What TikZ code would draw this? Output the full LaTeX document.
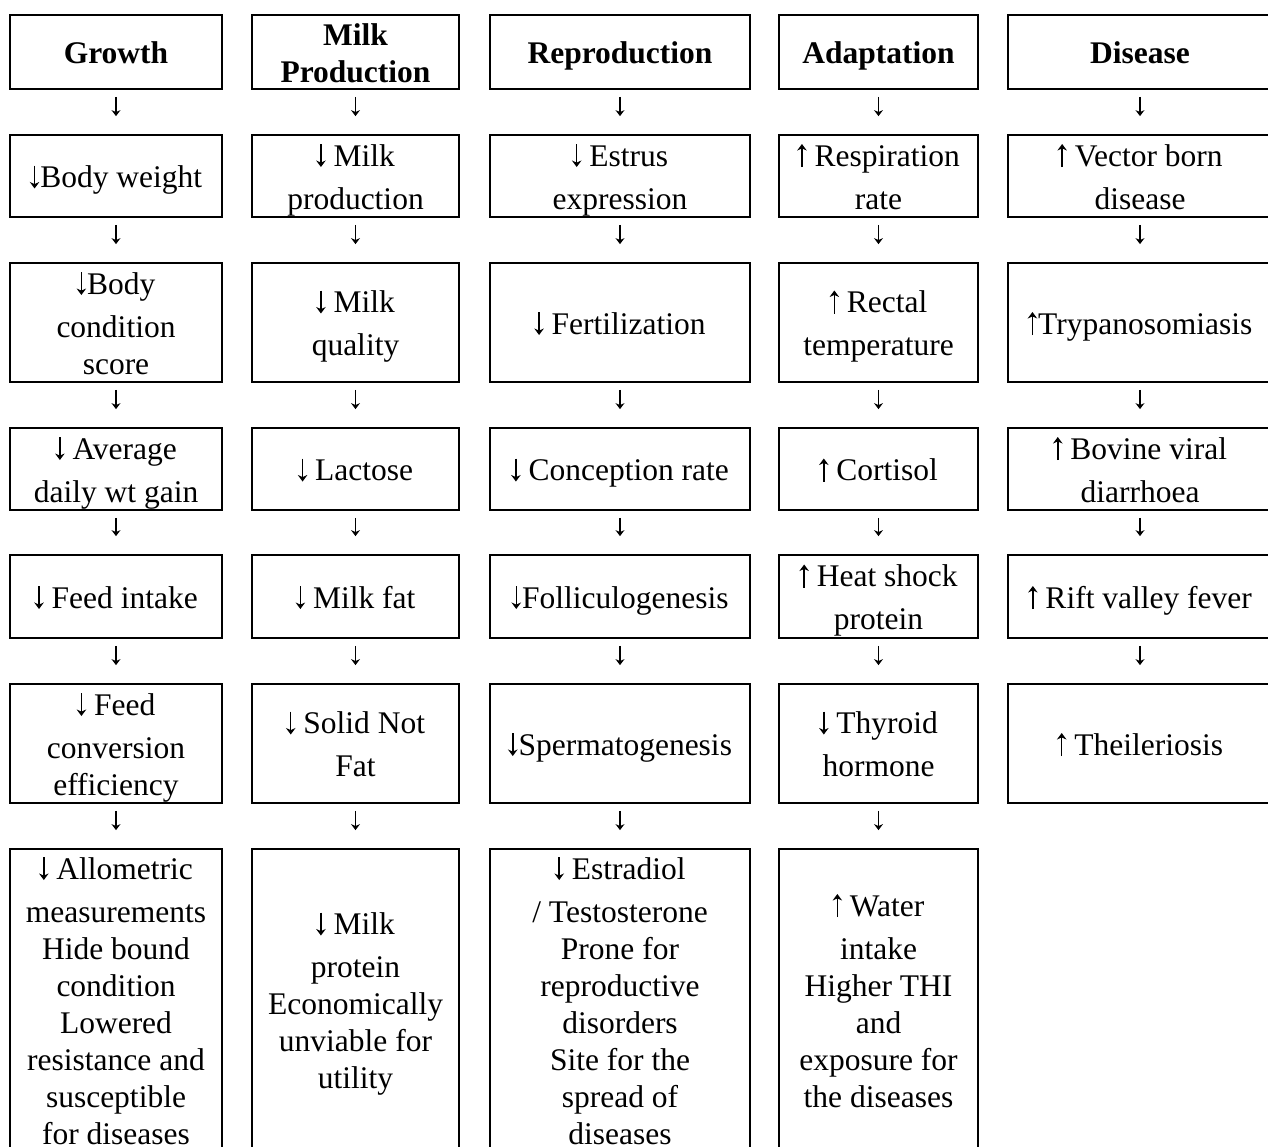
\documentclass[tikz,border=0pt]{standalone}
\usepackage{fontspec}
\setmainfont{Liberation Serif}
\usetikzlibrary{arrows.meta}
\newcommand{\fs}{\fontsize{31.5pt}{37pt}\selectfont}
\newcommand{\mystrut}{\rule[-7pt]{0pt}{37pt}}
\newcommand{\fl}{\rule{0pt}{30pt}}
\newcommand{\flh}{\rule{0pt}{30pt}}
\newcommand{\dnar}{\tikz[baseline=0pt]\draw[black,line width=1.5pt,-{Stealth[length=6.5pt,width=9.5pt]}] (0pt,22pt)--(0pt,-1pt);}
\newcommand{\upar}{\tikz[baseline=0pt]\draw[black,line width=1.5pt,-{Stealth[length=6.5pt,width=9.5pt]}] (0pt,-1pt)--(0pt,22pt);}
\begin{document}
\begin{tikzpicture}[x=1pt,y=-1pt,
  box/.style={draw, line width=1.8pt, inner sep=0pt, align=center, font=\fs,
    execute at begin node=\mystrut, execute at end node=\mystrut},
  head/.style={box, font=\fs\bfseries},
  wa/.style={minimum width=212pt}, wb/.style={minimum width=207pt},
  wc/.style={minimum width=260pt}, wd/.style={minimum width=199pt},
  we/.style={minimum width=264pt},
  h0/.style={minimum height=74pt}, h1/.style={minimum height=82pt},
  h2/.style={minimum height=119pt}, h3/.style={minimum height=82pt},
  h4/.style={minimum height=83pt}, h5/.style={minimum height=119pt},
  h6/.style={minimum height=302pt},
  conn/.style={line width=1.4pt, -{Stealth[length=6pt,width=9pt]}, shorten <=7pt, shorten >=18pt}]
\useasboundingbox (0,0) rectangle (1268,1146);
\clip (0,0) rectangle (1268,1146);
% column 1: Growth
\node[head,wa,h0] (g0) at (116,52) {Growth};
\node[box,wa,h1] (g1) at (116,176) {\dnar\kern1pt Body weight};
\node[box,wa,h2] (g2) at (116,322.5) {\fl\dnar\kern1pt Body\\[6pt]condition\\score};
\node[box,wa,h3] (g3) at (116,469) {\fl\dnar\ Average\\[6pt]daily wt gain};
\node[box,wa,h4] (g4) at (116,596.5) {\dnar\ Feed intake};
\node[box,wa,h5] (g5) at (116,743.5) {\fl\dnar\ Feed\\[6pt]conversion\\efficiency};
\node[box,wa,h6] (g6) at (116,1000) {\fl\dnar\ Allometric\\[6pt]measurements\\Hide bound\\condition\\Lowered\\resistance and\\susceptible\\for diseases};
% column 2: Milk Production
\node[head,wb,h0] (m0) at (355.5,52) {\flh Milk\\Production};
\node[box,wb,h1] (m1) at (355.5,176) {\fl\dnar\ Milk\\[6pt]production};
\node[box,wb,h2] (m2) at (355.5,322.5) {\fl\dnar\ Milk\\[6pt]quality};
\node[box,wb,h3] (m3) at (355.5,469) {\dnar\ Lactose};
\node[box,wb,h4] (m4) at (355.5,596.5) {\dnar\ Milk fat};
\node[box,wb,h5] (m5) at (355.5,743.5) {\fl\dnar\ Solid Not\\[6pt]Fat};
\node[box,wb,h6] (m6) at (355.5,1000) {\fl\dnar\ Milk\\[6pt]protein\\Economically\\unviable for\\utility};
% column 3: Reproduction
\node[head,wc,h0] (r0) at (620,52) {Reproduction};
\node[box,wc,h1] (r1) at (620,176) {\fl\dnar\ Estrus\\[6pt]expression};
\node[box,wc,h2] (r2) at (620,322.5) {\dnar\ Fertilization};
\node[box,wc,h3] (r3) at (620,469) {\dnar\ Conception rate};
\node[box,wc,h4] (r4) at (620,596.5) {\dnar\kern1pt Folliculogenesis};
\node[box,wc,h5] (r5) at (620,743.5) {\dnar\kern1pt Spermatogenesis};
\node[box,wc,h6] (r6) at (620,1000) {\fl\dnar\ Estradiol\\[6pt]/ Testosterone\\Prone for\\reproductive\\disorders\\Site for the\\spread of\\diseases};
% column 4: Adaptation
\node[head,wd,h0] (a0) at (878.5,52) {Adaptation};
\node[box,wd,h1] (a1) at (878.5,176) {\fl\upar\ Respiration\\[6pt]rate};
\node[box,wd,h2] (a2) at (878.5,322.5) {\fl\upar\ Rectal\\[6pt]temperature};
\node[box,wd,h3] (a3) at (878.5,469) {\upar\ Cortisol};
\node[box,wd,h4] (a4) at (878.5,596.5) {\fl\upar\ Heat shock\\[6pt]protein};
\node[box,wd,h5] (a5) at (878.5,743.5) {\fl\dnar\ Thyroid\\[6pt]hormone};
\node[box,wd,h6] (a6) at (878.5,1000) {\fl\upar\ Water\\[6pt]intake\\Higher THI\\and\\exposure for\\the diseases};
% column 5: Disease
\node[head,we,h0] (d0) at (1140,52) {Disease};
\node[box,we,h1] (d1) at (1140,176) {\fl\upar\ Vector born\\[6pt]disease};
\node[box,we,h2] (d2) at (1140,322.5) {\upar\kern1pt Trypanosomiasis};
\node[box,we,h3] (d3) at (1140,469) {\fl\upar\ Bovine viral\\[6pt]diarrhoea};
\node[box,we,h4] (d4) at (1140,596.5) {\upar\ Rift valley fever};
\node[box,we,h5] (d5) at (1140,743.5) {\upar\ Theileriosis};
% connectors
\foreach \c in {g,m,r,a}{
  \foreach \i [evaluate=\i as \j using int(\i+1)] in {0,...,5}{
    \draw[conn] (\c\i.south) -- (\c\j.north);
  }
}
\foreach \i [evaluate=\i as \j using int(\i+1)] in {0,...,4}{
  \draw[conn] (d\i.south) -- (d\j.north);
}
\end{tikzpicture}
\end{document}
